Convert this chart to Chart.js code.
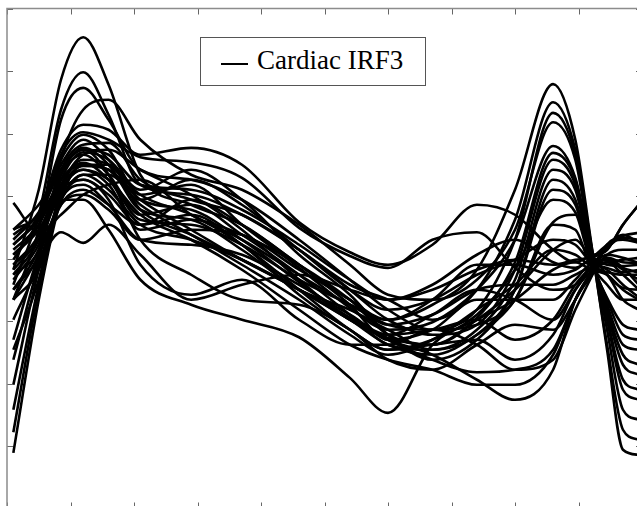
<!DOCTYPE html>
<html>
<head>
<meta charset="utf-8">
<script src="https://cdn.jsdelivr.net/npm/chart.js@4"></script>
<style>
  html, body { margin: 0; padding: 0; background: #fff; overflow: hidden; }
  #wrap { position: absolute; left: 0; top: 0; width: 645px; height: 512px; }
  #legend {
    position: absolute; left: 200px; top: 37px; width: 224px; height: 47px;
    border: 1px solid #555; background: #fff;
    font-family: "Liberation Serif", "Times New Roman", serif; font-size: 27px; color: #000;
  }
  #legend .sample { position: absolute; left: 20px; top: 25px; width: 27px; height: 2px; background: #000; }
  #legend .txt { position: absolute; left: 56px; top: 6px; line-height: 32px; white-space: nowrap; }
</style>
</head>
<body>
<div id="wrap"><canvas id="irf"></canvas></div>
<div id="legend"><span class="sample"></span><span class="txt">Cardiac IRF3</span></div>
<script>
// time axis (s)
const seconds = [0.1, 0.5, 0.85, 1.2, 1.6, 2.1, 2.9, 3.7, 4.6, 5.4, 6.0, 6.7, 7.4, 8.0, 8.6, 8.95, 9.2, 9.45, 9.7, 9.95]
const xTicks = [0, 1, 2, 3, 4, 5, 6, 7, 8, 9, 10]
const yTicks = [-4, -3, -2, -1, 0, 1, 2, 3, 4]

// one response per subject
const responses = [
  [-0.18, 1.10, 2.86, 3.54, 2.78, 1.34, 0.86, 0.54, -0.10, -0.66, -0.98, -0.74, -0.18, 1.10, 2.79, 1.90, 0.25, -1.46, -3.06, -3.14],
  [-0.42, 0.70, 2.38, 2.98, 2.30, 1.18, 1.02, 0.70, 0.14, -0.42, -0.66, -0.98, -0.50, 0.62, 2.50, 1.74, 0.22, -1.38, -2.74, -2.90],
  [-0.66, 0.46, 2.22, 2.73, 2.22, 1.42, 1.26, 0.94, 0.30, -0.34, -0.82, -1.14, -0.82, 0.30, 2.33, 1.66, 0.20, -1.14, -2.42, -2.58],
  [-0.98, -0.02, 1.58, 2.38, 2.54, 1.90, 1.34, 1.10, 0.54, -0.10, -0.58, -0.66, -0.34, 0.46, 2.18, 1.58, 0.15, -0.98, -2.10, -2.26],
  [0.22, 0.70, 1.74, 2.14, 2.06, 1.66, 1.77, 1.50, 0.58, 0.10, -0.10, 0.22, 0.86, 0.70, 0.14, -0.06, 0.05, 0.14, 0.54, 0.86],
  [0.06, 0.54, 1.66, 2.02, 1.90, 1.62, 1.54, 1.29, 0.49, 0.04, -0.15, 0.30, 0.42, -0.15, -0.50, -0.42, -0.12, 0.17, 0.36, 0.41],
  [-0.02, 0.62, 1.58, 1.98, 1.74, 1.02, 1.18, 0.54, -0.15, -0.79, -1.14, -1.02, -0.50, 0.30, 1.80, 1.29, 0.12, -0.95, -1.94, -2.10],
  [0.30, 0.74, 1.50, 1.90, 1.58, 0.94, 0.78, 0.30, -0.38, -0.95, -1.27, -1.38, -0.95, -0.06, 1.69, 1.26, 0.10, -0.86, -1.70, -1.86],
  [-0.26, 0.30, 1.42, 1.82, 1.85, 1.26, 0.94, 0.70, 0.14, -0.50, -0.98, -1.22, -1.06, -0.18, 1.58, 1.18, 0.05, -0.82, -1.54, -1.70],
  [0.46, 0.86, 1.42, 1.77, 1.50, 0.78, 0.62, 0.14, -0.50, -0.82, -1.14, -1.46, -1.14, -0.34, 1.42, 1.10, 0.02, -0.74, -1.38, -1.46],
  [-0.50, 0.14, 1.26, 1.70, 1.58, 1.10, 1.42, 0.94, 0.06, -0.58, -1.22, -1.62, -1.30, -0.50, 1.26, 0.94, -0.02, -0.66, -1.22, -1.30],
  [-0.10, 0.38, 1.34, 1.66, 1.34, 0.70, 0.86, 0.38, -0.26, -0.90, -1.38, -1.46, -1.22, -0.50, 1.10, 0.86, -0.05, -0.63, -1.06, -1.14],
  [-1.46, -0.34, 1.10, 1.58, 1.50, 1.02, 0.70, 0.22, -0.58, -1.14, -1.46, -1.30, -0.90, -0.18, 0.94, 0.74, -0.08, -0.42, -0.66, -0.66],
  [0.14, 0.54, 1.26, 1.53, 1.26, 0.62, 0.54, 0.22, -0.34, -0.74, -1.06, -1.14, -1.06, -0.66, 0.58, 0.70, 0.10, -0.26, -0.47, -0.50],
  [0.38, 0.70, 1.18, 1.48, 1.42, 0.94, 0.46, -0.02, -0.50, -0.98, -1.38, -1.54, -1.22, -0.66, 0.54, 0.46, -0.12, -0.22, -0.26, -0.26],
  [-0.34, 0.22, 1.10, 1.42, 1.18, 0.46, 0.62, 0.38, -0.10, -0.66, -1.22, -1.38, -0.98, -0.50, 0.14, 0.30, 0.02, -0.10, -0.12, -0.10],
  [-0.66, 0.06, 0.94, 1.34, 1.34, 0.86, 0.38, -0.10, -0.66, -1.22, -1.54, -1.30, -0.82, -0.42, 0.14, 0.06, -0.10, -0.06, -0.02, 0.01],
  [-3.11, -0.66, 0.94, 1.50, 1.50, 0.78, 0.38, -0.02, -0.50, -0.98, -1.30, -1.54, -1.94, -2.26, -1.78, -0.66, -0.22, 0.22, 0.30, 0.25],
  [-2.78, -0.50, 1.02, 1.42, 1.26, 0.70, 0.30, -0.18, -0.82, -1.38, -1.62, -1.78, -2.02, -2.02, -1.54, -0.66, -0.28, 0.06, 0.14, 0.14],
  [-2.42, -0.42, 0.94, 1.26, 1.02, 0.54, 0.70, 0.22, -0.50, -1.14, -1.46, -1.38, -1.30, -1.62, -1.22, -0.50, -0.20, 0.01, -0.06, -0.07],
  [-2.02, -0.18, 0.94, 1.18, 0.86, 0.30, 0.22, 0.06, -0.42, -0.90, -1.22, -1.14, -0.98, -1.30, -0.98, -0.42, -0.15, -0.06, -0.15, -0.23],
  [-1.62, -0.10, 0.86, 1.10, 0.86, 0.54, 0.94, 0.54, -0.10, -0.74, -1.30, -1.14, -0.66, -0.66, -0.66, -0.34, -0.10, -0.18, -0.42, -0.62],
  [-1.30, 0.06, 0.86, 1.02, 0.78, 0.30, 0.46, 0.38, -0.18, -0.66, -1.06, -0.90, -0.50, -0.42, -0.42, -0.26, -0.15, -0.26, -0.66, -0.82],
  [0.89, 0.42, 0.70, 1.02, 1.18, 1.26, 0.70, 0.30, -0.26, -0.74, -0.98, -0.66, -0.10, -0.10, -0.26, -0.18, -0.02, -0.02, -0.18, -0.34],
  [-0.50, -0.02, 0.42, 0.25, 0.54, 0.06, -0.66, -0.42, -0.26, -0.50, -0.66, -0.50, -0.18, -0.02, -0.10, -0.02, 0.02, 0.14, 0.54, 0.86],
  [-0.18, 0.30, 0.94, 0.94, 0.46, -0.34, -0.74, -0.98, -1.26, -1.91, -2.47, -1.38, -0.98, -0.66, -0.18, -0.06, -0.18, -0.26, -0.50, -0.66],
  [0.06, 0.46, 1.10, 1.26, 0.94, -0.10, -0.58, -0.34, -0.98, -1.38, -1.38, -1.14, -1.38, -1.78, -1.62, -0.82, -0.30, 0.22, 0.33, 0.30],
  [0.46, 0.70, 1.42, 1.74, 1.34, 0.30, -0.26, -0.66, -0.74, -1.14, -1.62, -1.78, -1.38, -1.06, -1.14, -0.66, -0.22, 0.01, -0.15, -0.42],
  [-0.26, 0.14, 1.34, 1.74, 1.66, 1.18, 1.10, 0.78, 0.22, -0.34, -0.66, -0.42, 0.06, 0.30, -0.06, -0.15, 0.00, 0.22, 0.38, 0.25],
  [-0.66, -0.18, 0.94, 1.34, 1.10, 0.54, 0.30, -0.02, -0.50, -0.95, -1.30, -1.62, -1.82, -1.78, -1.46, -0.66, -0.25, -0.06, -0.26, -0.50],
  [0.22, 0.62, 1.26, 1.50, 1.42, 0.94, 1.26, 0.86, 0.14, -0.50, -0.82, -0.66, -0.26, -0.02, 0.30, 0.22, -0.06, -0.15, -0.22, -0.18],
  [-0.10, 0.30, 1.18, 1.66, 1.74, 1.42, 1.02, 0.46, -0.34, -0.98, -1.22, -0.90, -0.50, -0.66, -0.98, -0.50, -0.14, 0.06, 0.01, -0.07]
]

// inward tick marks on all four sides (matlab style), frame on top/left
const innerTicks = {
  id: 'innerTicks',
  afterDraw(chart) {
    const { ctx, chartArea: a, scales } = chart
    const len = 6
    ctx.save()
    ctx.strokeStyle = '#666'
    ctx.lineWidth = 1
    ctx.beginPath()
    xTicks.forEach(v => {
      const px = Math.round(scales.x.getPixelForValue(v)) + 0.5
      ctx.moveTo(px, a.top); ctx.lineTo(px, a.top + len)
      ctx.moveTo(px, a.bottom); ctx.lineTo(px, a.bottom - len)
    })
    yTicks.forEach(v => {
      const py = Math.round(scales.y.getPixelForValue(v)) + 0.5
      ctx.moveTo(a.left, py); ctx.lineTo(a.left + len, py)
      ctx.moveTo(a.right, py); ctx.lineTo(a.right - len, py)
    })
    ctx.stroke()
    ctx.strokeStyle = '#8c8c8c'
    ctx.lineWidth = 1.5
    ctx.beginPath()
    ctx.moveTo(a.left, a.bottom); ctx.lineTo(a.left, a.top); ctx.lineTo(a.right, a.top)
    ctx.stroke()
    ctx.restore()
  }
}

const datasets = responses.map((r, i) => ({
  label: i === 0 ? 'Cardiac IRF3' : 'subject ' + (i + 1),
  data: r.map((v, j) => ({ x: seconds[j], y: v })),
  borderColor: '#000',
  borderWidth: 2.6,
  pointRadius: 0,
  cubicInterpolationMode: 'monotone',
  fill: false
}))

new Chart(document.getElementById('irf'), {
  type: 'line',
  data: { datasets },
  options: {
    responsive: true,
    maintainAspectRatio: false,
    animation: false,
    layout: { padding: { left: 7, top: 8.5, right: 3, bottom: 3.5 } },
    plugins: { legend: { display: false }, tooltip: { enabled: false } },
    scales: {
      x: { type: 'linear', min: 0, max: 10, display: false },
      y: { type: 'linear', min: -4, max: 4, display: false }
    }
  },
  plugins: [innerTicks]
})
</script>
</body>
</html>
